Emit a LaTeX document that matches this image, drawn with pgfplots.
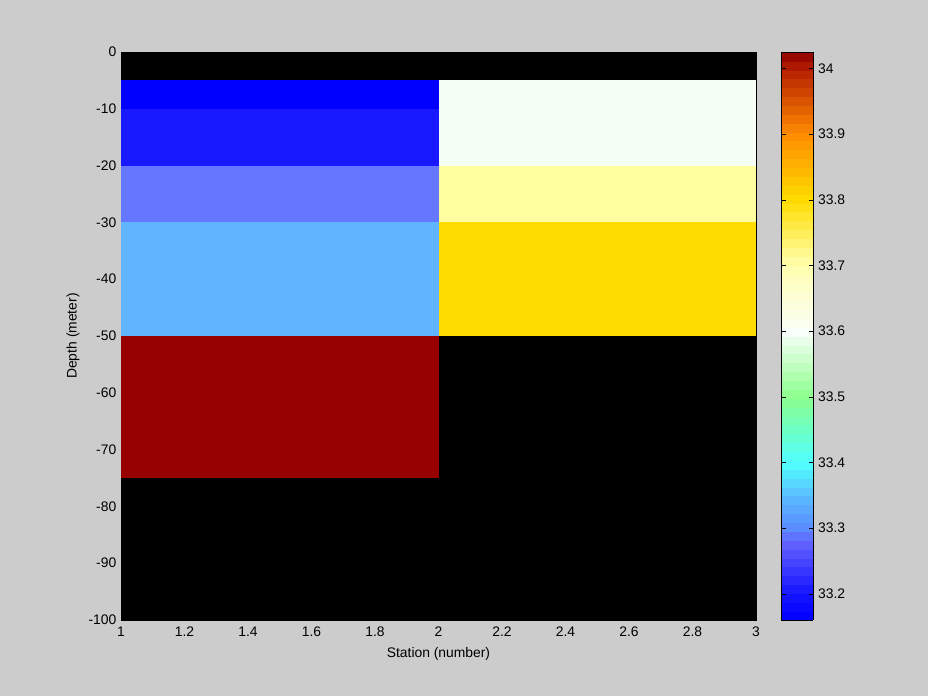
\documentclass[border=0pt]{standalone}
\usepackage{pgfplots}
\pgfplotsset{compat=1.18}
\usepackage{fontspec}
\setmainfont{Liberation Sans}
\definecolor{bg}{RGB}{204,204,204}
\definecolor{cA}{RGB}{0,0,255}
\definecolor{cB}{RGB}{25,25,255}
\definecolor{cC}{RGB}{102,119,255}
\definecolor{cD}{RGB}{97,180,255}
\definecolor{cE}{RGB}{150,0,0}
\definecolor{cF}{RGB}{245,255,245}
\definecolor{cG}{RGB}{255,255,160}
\definecolor{cH}{RGB}{255,220,0}
\begin{document}
\begin{tikzpicture}
\fill[bg] (0,0) rectangle (696pt,522pt);
\begin{axis}[
  at={(90.75pt,57pt)}, anchor=south west,
  scale only axis, width=476.25pt, height=426pt,
  xmin=1, xmax=3, ymin=-100, ymax=0,
  axis background/.style={fill=black},
  xtick={1,1.2,...,3.01}, ytick={-100,-90,...,0},
  tick align=inside, major tick length=4pt,
  tick style={black},
  font=\fontsize{10.4}{12}\selectfont,
  /pgf/number format/assume math mode=true,
  /pgf/number format/fixed,
  xticklabel style={yshift=-1.5pt},
  xlabel={Station (number)}, ylabel={Depth (meter)},
  xlabel style={yshift=-1pt}, ylabel style={yshift=0pt},
  colormap={salt}{rgb255(0)=(0,0,255) rgb255(40)=(20,20,255) rgb255(120)=(100,100,255) rgb255(140)=(90,140,255) rgb255(190)=(90,190,255) rgb255(240)=(80,255,255) rgb255(340)=(140,255,140) rgb255(440)=(250,255,250) rgb255(540)=(255,255,175) rgb255(640)=(255,220,0) rgb255(740)=(255,140,0) rgb255(840)=(180,30,0) rgb255(865)=(140,0,0)},
  point meta min=33.16, point meta max=34.025,
  colorbar sampled,
  colorbar style={
    samples=65,
    at={(parent axis.north east)}, anchor=north west, xshift=10.5pt,
    width=24pt,
    ytick={33.2,33.3,...,34.01},
    tick align=inside, major tick length=3.5pt,
    ytick pos=both, yticklabel pos=right,
    font=\fontsize{10.4}{12}\selectfont,
    /pgf/number format/assume math mode=true,
    /pgf/number format/fixed, /pgf/number format/precision=1,
  },
]
\addplot[draw=none, fill=cA] coordinates {(1,-5) (2,-5) (2,-10) (1,-10)} -- cycle;
\addplot[draw=none, fill=cB] coordinates {(1,-10) (2,-10) (2,-20) (1,-20)} -- cycle;
\addplot[draw=none, fill=cC] coordinates {(1,-20) (2,-20) (2,-30) (1,-30)} -- cycle;
\addplot[draw=none, fill=cD] coordinates {(1,-30) (2,-30) (2,-50) (1,-50)} -- cycle;
\addplot[draw=none, fill=cE] coordinates {(1,-50) (2,-50) (2,-75) (1,-75)} -- cycle;
\addplot[draw=none, fill=cF] coordinates {(2,-5) (3,-5) (3,-20) (2,-20)} -- cycle;
\addplot[draw=none, fill=cG] coordinates {(2,-20) (3,-20) (3,-30) (2,-30)} -- cycle;
\addplot[draw=none, fill=cH] coordinates {(2,-30) (3,-30) (3,-50) (2,-50)} -- cycle;
\end{axis}
\end{tikzpicture}
\end{document}
